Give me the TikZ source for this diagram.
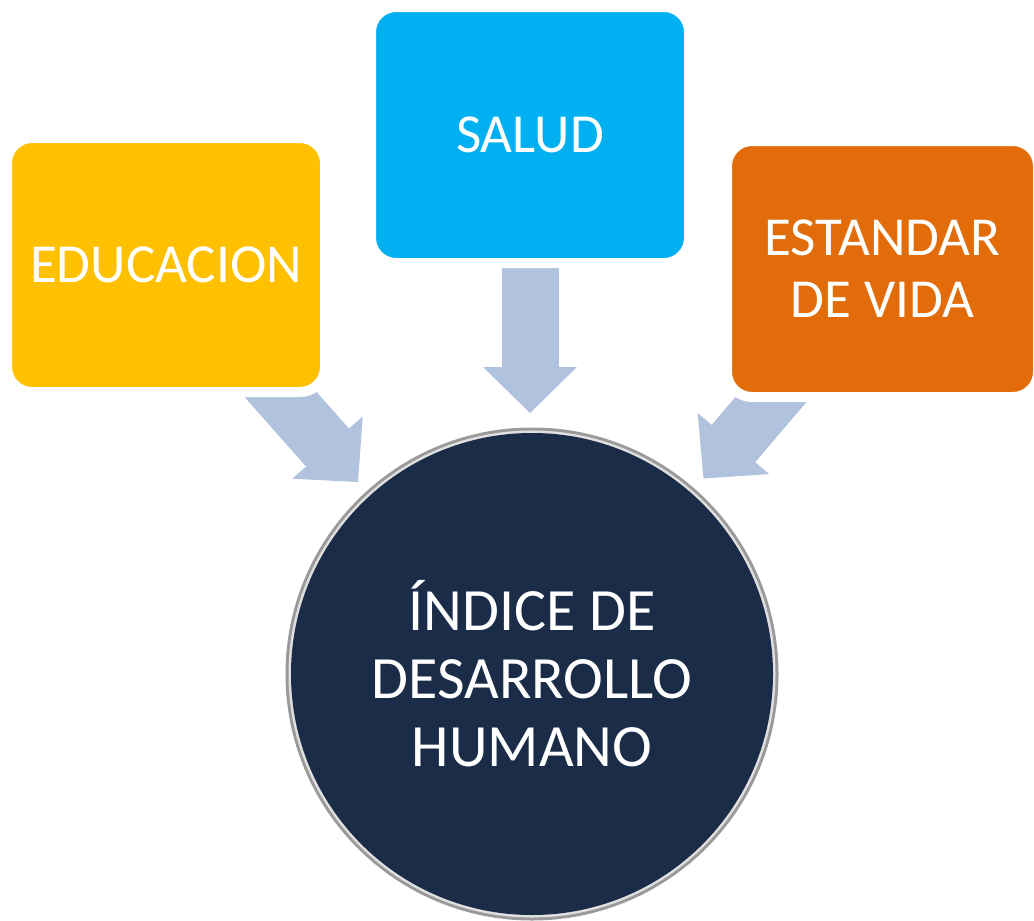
\documentclass[tikz,border=0pt]{standalone}
\usepackage{fontspec}
\setmainfont{Carlito}
\usetikzlibrary{arrows.meta}
\pgfdeclarelayer{background}
\pgfsetlayers{background,main}
\definecolor{gold}{HTML}{FFC000}
\definecolor{sky}{HTML}{00B0F0}
\definecolor{orng}{HTML}{E36C0A}
\definecolor{arrowc}{HTML}{B0C2DE}
\definecolor{navy}{HTML}{1A2C48}
\definecolor{ringgray}{HTML}{9A9A9A}
\begin{document}
\begin{tikzpicture}[x=1pt,y=-1pt,
  catbox/.style={rounded corners=25pt, draw=white, line width=10pt, text=white,
    align=center, font=\fontsize{55}{62}\selectfont, inner sep=0pt},
  blockarrow/.style={draw=arrowc, line width=57pt, line cap=butt,
    preaction={draw=arrowc, line width=57pt, line cap=butt, -, shorten >=30pt},
    -{Triangle[width=94pt,length=46pt,line width=0pt,fill=arrowc]}},
  hubcircle/.style={circle, fill=navy, text=white, align=center, inner sep=0pt,
    minimum size=482pt, font=\fontsize{60}{68}\selectfont,
    preaction={draw=ringgray, line width=11pt},
    preaction={draw=white!88!black, line width=5pt}}]
\useasboundingbox (0,0) rectangle (1034,921);

\node[catbox, fill=gold, minimum width=318pt, minimum height=254pt] (edu) at (166,265) {EDUCACION};
\node[catbox, fill=sky, minimum width=318pt, minimum height=256pt] (sal) at (530,135) {SALUD};
\node[catbox, fill=orng, minimum width=311pt, minimum height=256pt] (est) at (882.5,269) {ESTANDAR\\DE VIDA};
\node[hubcircle] (idh) at (532,674) {ÍNDICE DE\\DESARROLLO\\HUMANO};

\coordinate (tipL) at (358,482);
\coordinate (tipM) at (530,413);
\coordinate (tipR) at (703.5,478.5);

\begin{pgfonlayer}{background}
\draw[blockarrow] (edu.center) -- (tipL);
\draw[blockarrow] (sal.center) -- (tipM);
\draw[blockarrow] (est.center) -- (tipR);
\end{pgfonlayer}
\end{tikzpicture}
\end{document}
